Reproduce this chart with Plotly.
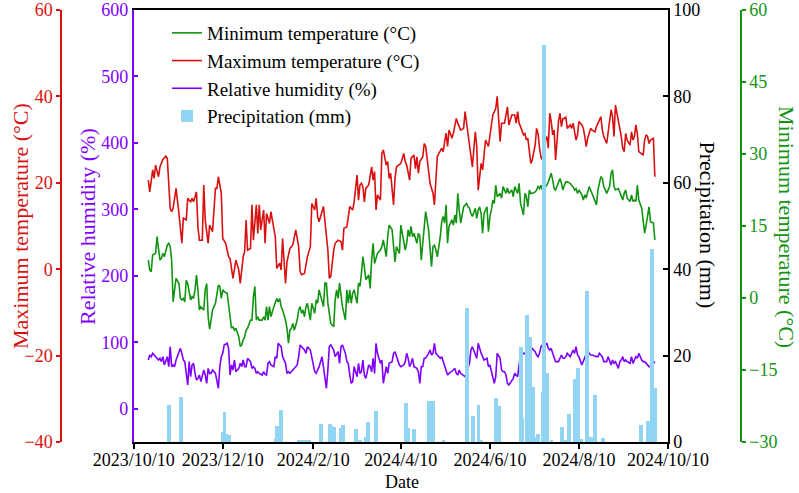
import pandas as pd
import plotly.graph_objects as go

# ---------------- data ----------------
start = pd.Timestamp("2023-10-20")

max_day = [0,1,3,4,5,7,8,10,12,13,15,16,17,19,21,23,24,26,27,29,30,31,33,34,35,37,38,39,41,42,44,46,47,48,50,51,53,55,56,58,60,62,63,65,66,67,68,70,71,72,74,75,76,77,79,80,81,83,84,86,87,88,90,91,92,94,95,97,99,101,103,104,105,107,109,111,112,114,115,116,117,120,122,123,124,125,127,128,130,132,133,134,136,137,138,140,141,143,144,145,146,147,148,149,151,153,154,155,156,157,159,160,161,163,164,165,166,168,169,170,172,173,175,176,177,179,180,182,183,184,185,186,188,189,190,193,195,196,197,198,201,202,203,204,205,206,208,209,211,212,214,216,217,219,220,222,224,225,226,228,229,231,233,236,238,239,241,242,244,246,247,249,251,252,253,254,255,257,258,259,260,261,262,263,265,266,267,268,269,270,271,273,274,275,276,277,278,279,281,282,283,284,285,286,287,289,290,291,292,293,294,295,297,298,299,300,301,302,303,304,306,307,308,309,310,311,312,314,315,316,317,318,319,320,322,323,324,325,326,327,328,330,331,332,333,334,335,336,338,339,340,341,342,343,344,346,347]
max_temp = [20.6,17.9,23.0,21.0,24.1,21.4,23.7,25.4,26.2,25.7,14.1,13.3,14.1,18.7,12.9,6.0,11.8,11.4,16.4,15.6,16.4,15.6,17.9,9.8,6.7,6.7,19.5,11.4,6.0,10.2,8.7,18.7,18.7,21.4,17.6,7.1,6.0,2.9,2.5,-2.1,2.1,-0.2,-3.3,2.9,4.1,11.4,4.4,4.8,14.9,6.7,14.9,8.3,14.9,9.1,13.7,6.0,12.9,10.6,13.3,9.1,7.5,0.2,1.4,-0.2,7.1,-3.3,1.7,4.8,5.6,9.1,5.2,-0.6,-1.3,-1.0,2.9,5.2,15.2,13.7,16.4,12.2,11.0,14.5,7.5,4.4,-2.1,-1.7,4.4,6.0,6.7,6.4,4.4,9.5,9.8,12.5,14.5,13.7,15.6,21.8,16.0,19.5,19.9,19.1,15.6,18.7,19.5,23.7,20.6,22.6,13.7,17.2,16.0,26.8,27.6,24.1,24.9,21.0,22.2,14.9,21.0,23.7,24.1,24.5,26.8,24.9,24.1,20.6,25.7,26.4,23.3,26.0,22.2,24.9,26.0,29.1,28.4,19.9,17.6,14.9,20.7,26.1,28.0,27.2,29.5,31.5,28.4,32.2,30.3,31.5,34.9,33.8,32.2,32.6,36.5,31.5,29.9,23.7,31.8,28.4,18.3,24.5,23.0,29.9,28.4,35.7,37.2,40.0,29.5,33.8,33.8,37.6,33.4,35.7,35.7,33.8,36.5,33.8,33.0,31.1,31.4,29.9,30.3,27.2,24.5,25.3,28.7,32.6,31.4,28.0,26.0,25.3,29.1,30.7,28.0,36.1,34.2,31.1,32.2,25.3,34.2,36.1,33.0,34.9,34.9,35.3,32.6,33.4,32.6,33.8,31.8,29.9,31.1,34.2,33.4,32.6,30.7,28.4,30.3,31.4,32.6,32.2,31.8,33.0,33.8,34.5,35.3,32.2,30.7,29.1,31.4,33.8,36.9,35.3,30.7,38.0,34.5,32.2,30.7,28.0,27.2,31.4,29.9,28.7,31.8,29.9,30.7,33.4,31.4,27.2,26.8,26.4,29.9,31.1,30.7,29.1,29.9,30.3,21.4]

min_day = [0,1,2,3,5,6,7,8,9,10,11,13,14,15,16,17,18,19,21,22,23,24,25,26,27,29,30,31,32,33,34,35,36,38,39,40,41,42,43,44,46,47,48,49,50,51,52,54,55,56,57,58,59,60,62,63,64,65,66,67,68,70,71,72,73,74,75,76,78,79,80,81,82,83,84,86,87,88,89,90,91,92,94,95,96,97,98,99,100,102,103,104,105,106,107,108,109,111,112,113,114,115,116,117,119,120,121,122,123,124,125,127,128,129,130,131,132,133,135,136,137,138,139,140,141,143,144,145,146,147,148,149,151,152,153,154,155,156,157,159,160,161,162,163,164,165,167,168,169,170,172,173,175,176,177,178,179,180,181,182,184,185,186,187,188,189,190,192,193,194,195,196,197,198,200,201,202,203,204,205,206,208,209,210,211,212,213,214,216,217,218,219,220,221,222,224,225,226,227,228,229,230,232,233,234,235,236,237,238,239,241,242,243,244,245,246,247,249,250,251,253,254,255,257,258,259,260,261,262,263,265,266,267,268,269,270,271,273,274,275,276,277,278,279,281,282,283,284,285,286,287,289,290,291,292,293,294,295,297,298,299,300,301,302,303,304,306,307,308,309,310,311,312,314,315,316,317,318,319,320,322,323,324,325,326,327,328,330,331,332,333,334,335,336,338,339,340,341,342,343,344,346,347]
min_temp = [7.9,5.8,5.5,9.0,9.3,12.8,10.3,7.9,8.3,9.3,8.6,11.0,11.4,10.7,7.9,-0.8,1.7,4.1,3.0,-0.1,-0.4,-0.1,-0.8,3.7,3.0,-0.4,0.3,-0.1,1.7,4.8,1.7,-2.5,-1.8,-2.5,1.7,3.0,-3.9,-6.5,-4.6,-2.5,-1.1,1.0,2.7,2.4,-0.1,1.7,1.3,1.0,-1.8,-4.6,-6.3,-6.0,-6.7,-6.3,-8.1,-10.1,-9.8,-8.7,-8.1,-6.7,-6.3,-4.6,-4.6,0.3,2.4,-4.6,-3.9,-4.6,-4.6,-3.9,-4.6,-1.8,-4.6,-1.8,-3.9,-1.8,-1.1,-0.1,-0.8,-0.1,-1.8,-2.5,-4.6,-6.3,-9.4,-6.7,-6.3,-5.3,-6.7,-4.6,-2.5,-1.8,-3.2,-2.5,-3.9,-1.8,-1.1,-4.6,-1.1,-2.5,-3.2,-0.4,-1.1,1.7,-1.1,-1.8,3.1,3.1,-1.1,-3.9,-5.3,-6.0,-0.4,1.7,-0.1,3.1,1.0,-1.8,-4.6,1.7,-1.1,1.7,-1.1,1.0,1.7,-1.1,3.1,2.4,5.1,8.6,6.5,3.8,4.8,2.0,7.9,11.4,7.2,8.6,9.3,10.0,10.7,12.1,10.0,8.6,12.8,15.2,14.2,10.4,7.5,10.7,9.3,15.2,11.4,10.0,11.4,14.2,12.8,14.9,12.8,13.5,11.4,13.5,12.8,7.9,11.4,15.6,18.0,14.2,9.3,6.5,10.7,11.0,10.0,8.6,12.8,15.9,17.0,15.6,19.4,11.4,14.9,16.3,15.2,17.3,15.6,21.8,18.3,15.6,19.0,19.4,19.7,19.0,18.7,17.6,17.0,18.7,16.6,18.3,19.0,17.6,13.5,17.6,19.0,13.8,17.0,18.3,20.4,19.7,23.5,21.1,21.8,20.8,23.2,22.5,21.8,22.9,21.8,22.5,21.1,23.2,21.8,23.9,19.7,17.3,21.8,21.1,19.0,22.5,21.8,21.8,22.1,22.5,23.2,22.8,23.5,22.5,22.8,23.5,24.2,25.3,26.0,24.6,22.8,22.5,24.2,24.9,23.9,22.5,23.5,24.2,24.2,23.9,23.5,23.2,22.5,22.8,21.8,22.5,21.5,20.4,21.5,20.8,22.1,23.2,22.5,21.8,20.4,19.4,22.5,23.9,25.3,24.9,23.2,21.8,22.5,23.2,26.0,26.7,23.2,22.5,22.8,22.1,21.1,20.4,21.8,22.5,20.8,20.1,21.5,20.1,20.4,20.1,23.5,20.4,18.7,16.6,13.5,15.2,17.6,19.0,15.9,15.6,12.1]

rh_day = [0,1,2,3,5,6,7,8,9,10,11,13,14,15,16,17,18,19,21,22,23,24,25,26,27,28,29,30,31,32,33,34,35,36,38,39,40,41,42,43,44,46,47,48,49,50,51,52,54,55,56,57,58,59,60,62,63,64,65,66,67,68,70,71,72,73,74,75,76,78,79,80,81,82,83,84,86,87,88,89,90,91,92,94,95,96,97,98,99,100,102,103,104,105,106,107,108,109,111,112,113,114,115,116,117,119,120,121,122,123,124,125,127,128,129,130,131,132,133,135,136,137,138,139,140,141,143,144,145,146,147,148,149,151,152,153,154,155,156,157,159,160,161,162,163,164,165,167,168,169,170,171,172,173,175,176,177,178,179,180,181,182,184,185,186,187,188,189,190,192,193,194,195,196,197,198,200,201,202,203,204,205,206,208,209,210,211,212,213,214,216,217,220,221,222,224,225,226,227,228,229,230,232,233,234,235,236,237,238,239,241,242,243,244,245,246,247,249,250,251,252,253,254,255,257,258,259,260,261,262,263,265,266,267,268,269,270,271,273,274,275,276,277,278,279,281,282,283,284,285,286,287,289,290,291,292,293,294,295,297,298,299,300,301,302,303,304,306,307,308,309,310,311,312,314,315,316,317,318,319,320,322,323,324,325,326,327,328,330,331,332,333,334,335,336,338,339,340,341,342,343,344,346,347]
rh_val = [73.4,80.9,78.4,83.4,78.4,75.9,73.4,75.9,70.9,78.4,65.9,78.4,63.4,93.4,63.4,65.9,63.4,73.4,83.4,90.9,83.4,73.4,70.9,48.3,35.8,70.9,48.3,65.9,68.4,53.3,43.3,45.8,50.8,40.8,58.3,50.8,38.3,60.8,53.3,53.3,58.3,53.3,43.3,30.8,63.4,78.4,83.4,96.0,98.5,90.9,50.8,65.9,58.3,73.4,55.8,60.8,68.4,63.4,73.4,63.4,63.4,75.9,70.9,60.8,63.4,60.8,53.3,55.8,53.3,50.8,55.8,52.0,50.8,68.4,70.9,65.9,63.4,78.4,75.9,98.5,96.0,93.4,78.4,68.4,53.3,55.8,53.3,55.8,58.3,60.8,65.9,78.4,96.0,93.4,90.9,88.4,83.4,93.4,88.4,75.9,63.4,55.8,53.3,58.3,63.4,78.4,63.4,48.3,30.8,58.3,93.4,96.0,88.4,78.4,83.4,85.9,68.4,93.4,96.0,83.4,70.9,68.4,50.8,38.3,40.8,63.4,48.3,68.4,53.3,55.8,73.4,50.8,45.8,65.9,63.4,55.8,75.9,53.3,98.5,83.4,68.4,73.4,38.3,48.3,63.4,53.3,68.4,70.9,83.4,85.9,78.4,70.9,65.9,63.4,65.9,70.9,83.4,75.9,63.4,68.4,75.9,63.4,60.8,55.8,38.3,63.4,63.4,75.9,75.9,83.4,88.4,80.9,83.4,98.5,83.4,80.9,75.9,78.4,70.9,63.4,58.3,50.8,53.3,55.8,58.3,60.8,53.3,50.8,58.3,53.3,50.8,48.3,68.4,88.4,93.4,83.4,75.9,98.5,88.4,83.4,78.4,73.4,75.9,63.4,65.9,55.8,48.3,38.3,48.3,83.4,75.9,58.3,55.8,55.8,50.8,38.3,35.8,43.3,45.8,53.3,50.8,48.3,65.9,78.4,83.4,83.4,78.4,93.4,98.5,90.9,90.9,85.9,80.9,78.4,83.4,93.4,96.0,93.4,98.5,90.9,88.4,90.9,83.4,78.4,70.9,70.9,75.9,80.9,75.9,75.9,78.4,83.4,78.4,83.4,88.4,83.4,93.4,80.9,78.4,65.9,70.9,75.9,80.9,88.4,83.4,80.9,80.9,78.4,78.4,78.4,83.4,80.9,78.4,70.9,70.9,78.4,73.4,65.9,73.4,68.4,70.9,60.8,70.9,73.4,78.4,70.9,73.4,70.9,68.4,78.4,68.4,73.4,78.4,75.9,83.4,73.4,70.9,70.9,68.4,65.9,63.4,63.4,68.4,70.9]

precip_date = ["2023-11-03","2023-11-11","2023-12-10","2023-12-11","2023-12-12","2023-12-14",
               "2024-01-15","2024-01-16","2024-01-19","2024-01-31","2024-02-02","2024-02-04","2024-02-07",
               "2024-02-15","2024-02-21","2024-02-22","2024-02-24","2024-02-29","2024-03-01","2024-03-10",
               "2024-03-13","2024-03-17","2024-03-18","2024-03-24","2024-04-13","2024-04-15","2024-04-19",
               "2024-04-29","2024-05-01","2024-05-02","2024-05-09","2024-05-25","2024-05-29","2024-06-02",
               "2024-06-04","2024-06-14","2024-06-16","2024-07-01","2024-07-02","2024-07-05","2024-07-07",
               "2024-07-09","2024-07-12","2024-07-13","2024-07-16","2024-07-17","2024-07-19","2024-07-22",
               "2024-07-29","2024-07-31","2024-08-03","2024-08-07","2024-08-09","2024-08-11","2024-08-15",
               "2024-08-18","2024-08-21","2024-08-26","2024-09-21","2024-09-26","2024-09-29","2024-10-01"]
precip_mm = [8.5,10.5,2.4,7.0,1.9,1.7,
             0.7,3.6,7.3,0.4,0.5,0.4,0.5,
             4.2,4.2,3.6,3.5,3.3,4.0,3.1,
             0.5,1.2,4.6,7.1,9.1,3.2,3.0,
             9.5,4.1,9.6,0.4,31.0,6.1,8.5,
             0.5,10.1,8.3,22.1,5.5,29.4,24.4,
             12.8,1.2,1.9,11.6,91.9,15.9,0.4,
             3.4,0.4,6.5,14.7,17.1,0.6,35.0,
             1.2,10.8,0.9,3.9,4.8,44.6,12.4]

tick_dates = ["2023-10-10","2023-12-10","2024-02-10","2024-04-10","2024-06-10","2024-08-10","2024-10-10"]
tick_text = ["2023/10/10","2023/12/10","2024/2/10","2024/4/10","2024/6/10","2024/8/10","2024/10/10"]

# ---------------- styling ----------------
FONT = "Liberation Serif"
RED = "#D81010"
GREEN = "#129412"
PURPLE = "#7F00FF"
BLUE = "#92D5F3"
W, H = 799, 493
L_PX, R_PX, T_PX, B_PX = 133.7, 668.0, 10, 442


def days_to_dates(days):
    return start + pd.to_timedelta(days, unit="D")


def px_x(px):
    return px / W


def px_y(py):
    return (B_PX - py) / (B_PX - T_PX)


fig = go.Figure()
fig.add_trace(go.Scatter(x=days_to_dates(min_day), y=min_temp, mode="lines",
                         name="Minimum temperature (°C)", line=dict(color=GREEN, width=1.6),
                         yaxis="y3"))
fig.add_trace(go.Scatter(x=days_to_dates(max_day), y=max_temp, mode="lines",
                         name="Maximum temperature (°C)", line=dict(color=RED, width=1.6),
                         yaxis="y2"))
fig.add_trace(go.Scatter(x=days_to_dates(rh_day), y=rh_val, mode="lines",
                         name="Relative humidity (%)", line=dict(color=PURPLE, width=1.6),
                         yaxis="y"))
fig.add_trace(go.Bar(x=pd.to_datetime(precip_date), y=precip_mm, name="Precipitation (mm)",
                     marker=dict(color=BLUE, line=dict(width=0)),
                     width=2.7 * 86400000, yaxis="y4"))


def tickfont(c):
    return dict(family=FONT, size=18, color=c)


common = dict(showgrid=False, zeroline=False, automargin=False, tickangle=0)

fig.update_layout(
    width=W, height=H,
    margin=dict(l=0, r=0, t=T_PX, b=H - B_PX, autoexpand=False),
    paper_bgcolor="white", plot_bgcolor="white",
    font=dict(family=FONT, size=18, color="black"),
    showlegend=True,
    legend=dict(x=px_x(167), y=px_y(14), xanchor="left", yanchor="top",
                font=dict(family=FONT, size=19, color="black"),
                bgcolor="rgba(0,0,0,0)", borderwidth=0, tracegroupgap=0),
    bargap=0,
    xaxis=dict(domain=[px_x(L_PX), px_x(R_PX)], type="date",
               range=["2023-10-10", "2024-10-10"],
               tickmode="array", tickvals=tick_dates, ticktext=tick_text,
               showline=True, linecolor="black", linewidth=1.5, mirror=True,
               ticks="outside", ticklen=5, tickwidth=1.5, tickcolor="black",
               ticklabelstandoff=-4,
               tickfont=tickfont("black"), **common),
    yaxis=dict(range=[-50, 600], tick0=0, dtick=100, side="left", anchor="x",
               showline=True, linecolor=PURPLE, linewidth=1.5,
               ticks="inside", ticklen=5, tickwidth=1.5, tickcolor=PURPLE,
               tickfont=tickfont(PURPLE), **common),
    yaxis2=dict(range=[-40, 60], tick0=0, dtick=20, overlaying="y", side="left",
                anchor="free", position=px_x(61),
                showline=True, linecolor=RED, linewidth=1.5,
                ticks="outside", ticklen=4, tickwidth=1.5, tickcolor=RED,
                tickfont=tickfont(RED), **common),
    yaxis3=dict(range=[-30, 60], tick0=0, dtick=15, overlaying="y", side="right",
                anchor="free", position=px_x(741),
                showline=True, linecolor=GREEN, linewidth=1.5,
                ticks="outside", ticklen=4, tickwidth=1.5, tickcolor=GREEN,
                tickfont=tickfont(GREEN), **common),
    yaxis4=dict(range=[0, 100], tick0=0, dtick=20, overlaying="y", side="right",
                anchor="x", showline=True, linecolor="black", linewidth=1.5,
                ticks="inside", ticklen=5, tickwidth=1.5, tickcolor="black",
                tickfont=tickfont("black"), **common),
)

ann = [
    dict(text="Maximum temperature (°C)", x=px_x(20), y=px_y(226), textangle=-90, color=RED, size=22),
    dict(text="Relative humidity (%)", x=px_x(87), y=px_y(227), textangle=-90, color=PURPLE, size=22),
    dict(text="Precipitation (mm)", x=px_x(707.5), y=px_y(225), textangle=90, color="black", size=22),
    dict(text="Minimum temperature (°C)", x=px_x(787), y=px_y(227), textangle=90, color=GREEN, size=22),
    dict(text="Date", x=px_x(401.7), y=px_y(481.8), textangle=0, color="black", size=18),
]
for a in ann:
    fig.add_annotation(text=a["text"], x=a["x"], y=a["y"], xref="paper", yref="paper",
                       xanchor="center", yanchor="middle", textangle=a["textangle"],
                       showarrow=False, borderpad=0,
                       font=dict(family=FONT, size=a["size"], color=a["color"]))

fig.write_html("out.html")
